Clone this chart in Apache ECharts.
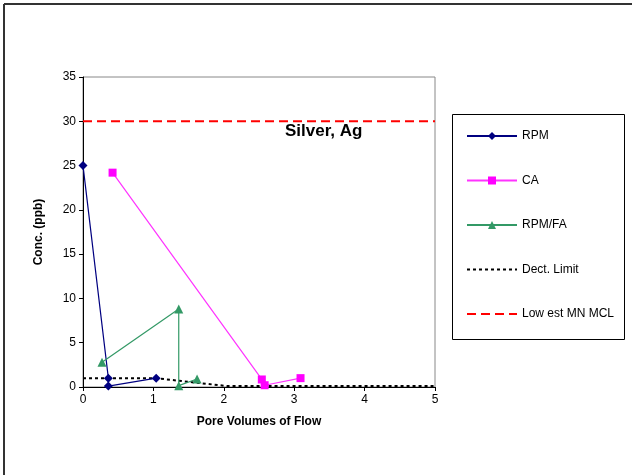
<!DOCTYPE html>
<html><head><meta charset="utf-8">
<script src="https://cdn.jsdelivr.net/npm/echarts@6/dist/echarts.min.js"></script>
<style>html,body{margin:0;padding:0;background:#fff}#c{width:632px;height:475px}</style>
</head><body><div id="c"></div>
<script>
const xTicks = [0,1,2,3,4,5];
const yTicks = [0,5,10,15,20,25,30,35];
const rpm = [[0,25],[0.36,1],[0.36,0.1],[1.04,1]];
const ca = [[0.42,24.2],[2.54,0.85],[2.58,0.2],[3.09,1]];
const rpmfa = [[0.27,2.8],[1.36,8.8],[1.36,0.15],[1.62,0.9]];
const dectLimit = [[0,1],[1.03,1],[2.05,0.1],[5.05,0.1]];
const mcl = [[0,30],[5,30]];
const seriesNames = ['RPM','CA','RPM/FA','Dect. Limit','Low est MN MCL'];

const chart = echarts.init(document.getElementById('c'), null, {renderer:'canvas'});
const F = 'Liberation Sans, Arial, sans-serif';
chart.setOption({
  animation:false,
  backgroundColor:'#fff',
  textStyle:{fontFamily:F},
  grid:{left:83,top:77,right:197,bottom:88,show:true,borderColor:'#888',borderWidth:1,backgroundColor:'transparent'},
  xAxis:{type:'value',min:xTicks[0],max:xTicks[xTicks.length-1],interval:1,
    name:'Pore Volumes of Flow',nameLocation:'middle',nameGap:29,
    nameTextStyle:{fontFamily:F,fontWeight:'bold',fontSize:12,color:'#000'},
    axisLine:{show:true,lineStyle:{color:'#000',width:1}},
    axisTick:{show:true,length:4,lineStyle:{color:'#000'}},
    axisLabel:{fontFamily:F,fontSize:12,color:'#000',margin:7},
    splitLine:{show:false}},
  yAxis:{type:'value',min:yTicks[0],max:yTicks[yTicks.length-1],interval:5,
    name:'Conc. (ppb)',nameLocation:'middle',nameGap:38,
    nameTextStyle:{fontFamily:F,fontWeight:'bold',fontSize:12,color:'#000'},
    axisLine:{show:true,lineStyle:{color:'#000',width:1}},
    axisTick:{show:true,length:4,lineStyle:{color:'#000'}},
    axisLabel:{fontFamily:F,fontSize:12,color:'#000',margin:7},
    splitLine:{show:false}},
  legend:{orient:'vertical',left:466,top:130,padding:0,itemWidth:50,itemHeight:10,itemGap:32.5,
    data:[
      {name:seriesNames[0]},
      {name:seriesNames[1]},
      {name:seriesNames[2]},
      {name:seriesNames[3],itemStyle:{opacity:0}},
      {name:seriesNames[4],itemStyle:{opacity:0}}
    ],
    textStyle:{fontFamily:F,fontSize:12,color:'#000'}},
  graphic:[
    {type:'rect',shape:{x:452.5,y:114.5,width:172,height:225},style:{fill:'none',stroke:'#000',lineWidth:1},z:-1},
    {type:'line',shape:{x1:4,y1:4,x2:632,y2:4},style:{stroke:'#333',lineWidth:2}},
    {type:'line',shape:{x1:4,y1:4,x2:4,y2:475},style:{stroke:'#333',lineWidth:2}},
    {type:'text',left:285,top:123,style:{text:'Silver, Ag',font:'bold 17px '+F,fill:'#000'}}
  ],
  series:[
    {name:'Low est MN MCL',type:'line',data:mcl,symbol:'none',z:1,
      lineStyle:{color:'#ff0000',width:2,type:[9,5]},itemStyle:{color:'#ff0000'}},
    {name:'Dect. Limit',type:'line',data:dectLimit,symbol:'none',clip:false,z:1,
      lineStyle:{color:'#000',width:2,type:[3,3]},itemStyle:{color:'#000'}},
    {name:'RPM',type:'line',data:rpm,symbol:'diamond',symbolSize:9,clip:false,z:3,
      lineStyle:{color:'#000080',width:1.2},itemStyle:{color:'#000080'}},
    {name:'CA',type:'line',data:ca,symbol:'rect',symbolSize:8,clip:false,z:3,
      lineStyle:{color:'#ff33ff',width:1.2},itemStyle:{color:'#ff00ff'}},
    {name:'RPM/FA',type:'line',data:rpmfa,symbol:'triangle',symbolSize:9,clip:false,z:3,
      lineStyle:{color:'#339966',width:1.2},itemStyle:{color:'#339966'}}
  ]
});
</script></body></html>
